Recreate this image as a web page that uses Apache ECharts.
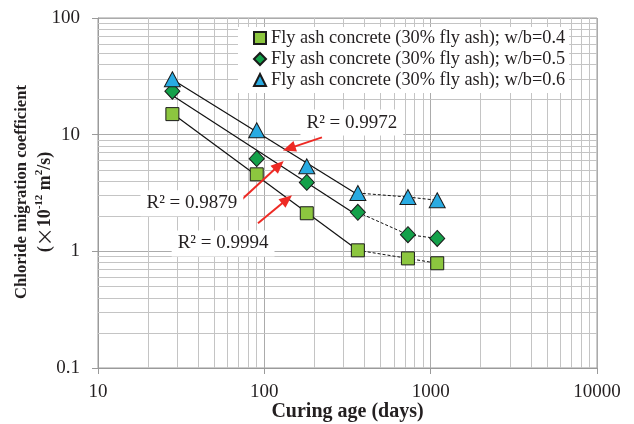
<!DOCTYPE html>
<html><head><meta charset="utf-8">
<script src="https://cdn.jsdelivr.net/npm/echarts@6/dist/echarts.min.js"></script>
<style>html,body{margin:0;padding:0;background:#fff}#c{width:634px;height:424px}</style>
</head><body><div id="c"></div>
<script>
const days = [28, 90, 180, 365, 730, 1095];
const wb04 = [15.0, 4.57, 2.12, 1.02, 0.87, 0.79];
const wb05 = [23.6, 6.23, 3.90, 2.16, 1.39, 1.29];
const wb06 = [29.8, 10.9, 5.35, 3.16, 2.92, 2.74];
const seriesNames = [
  'Fly ash concrete (30% fly ash); w/b=0.4',
  'Fly ash concrete (30% fly ash); w/b=0.5',
  'Fly ash concrete (30% fly ash); w/b=0.6'
];
const r2Labels = ['R² = 0.9994', 'R² = 0.9879', 'R² = 0.9972'];
const xMin = 10, xMax = 10000, yMin = 0.1, yMax = 100;
const fitCount = 4;

const FONT = '"Liberation Serif","Times New Roman",serif';
const TXT = '#231f20';

function powerFit(xs, ys) {
  const lx = xs.map(Math.log10), ly = ys.map(Math.log10);
  const n = lx.length;
  const mx = lx.reduce((a, b) => a + b, 0) / n, my = ly.reduce((a, b) => a + b, 0) / n;
  let sxy = 0, sxx = 0;
  for (let i = 0; i < n; i++) { sxy += (lx[i] - mx) * (ly[i] - my); sxx += (lx[i] - mx) ** 2; }
  const b = sxy / sxx, a = my - b * mx;
  return x => Math.pow(10, a + b * Math.log10(x));
}
function minorVals(lo, hi) {
  const out = [];
  for (let d = lo; d < hi; d *= 10) for (let m = 2; m <= 9; m++) out.push(+(d * m).toPrecision(3));
  return out;
}

const sets = [
  { y: wb04, symbol: 'rect', size: 13, color: '#8cc63f' },
  { y: wb05, symbol: 'diamond', size: [15, 16], color: '#14a14a' },
  { y: wb06, symbol: 'triangle', size: [16, 15], color: '#29abe2' }
];

const series = [];
series.push({
  type: 'line', data: [], silent: true, z: 1,
  markLine: {
    silent: true, symbol: ['none', 'none'], animation: false, z: 1,
    label: { show: false },
    lineStyle: { color: '#c4c4c4', type: 'solid', width: 1 },
    data: minorVals(xMin, xMax).map(v => ({ xAxis: v }))
      .concat(minorVals(yMin, yMax).map(v => ({ yAxis: v })))
  }
});

sets.forEach((s, k) => {
  const f = powerFit(days.slice(0, fitCount), s.y.slice(0, fitCount));
  series.push({
    type: 'line', silent: true, z: 3, symbol: 'none',
    lineStyle: { color: '#111', width: 1.2, type: 'solid' },
    data: [[days[0], f(days[0])], [days[fitCount - 1], f(days[fitCount - 1])]]
  });
  series.push({
    type: 'line', silent: true, z: 3, symbol: 'none',
    lineStyle: { color: '#111', width: 1, type: [3, 2] },
    data: days.slice(fitCount - 1).map((d, i) => [d, s.y[fitCount - 1 + i]])
  });
  series.push({
    name: seriesNames[k], type: 'scatter', z: 5,
    symbol: s.symbol, symbolSize: s.size,
    itemStyle: { color: s.color, borderColor: '#1a1a1a', borderWidth: 1, opacity: 1 },
    data: days.map((d, i) => [d, s.y[i]])
  });
});

const labelPos = [[56.5, 1.17], [36.7, 2.58], [336, 12.7]];
const arrows = [
  [[91.6, 1.74], [136.9, 2.79]],
  [[73.5, 2.79], [122.4, 5.46]],
  [[222, 9.48], [140.8, 7.63]]
];
series.push({
  type: 'line', data: [], silent: true, z: 7,
  markLine: {
    silent: true, animation: false, z: 7, symbol: ['none', 'triangle'], symbolSize: [11, 13],
    label: { show: false },
    lineStyle: { color: '#ee2a24', width: 2, type: 'solid' },
    itemStyle: { color: '#ee2a24' },
    data: arrows.map(a => [{ coord: a[0] }, { coord: a[1] }])
  },
  markPoint: {
    silent: true, animation: false, z: 8, symbol: 'rect', symbolSize: 1,
    itemStyle: { color: 'rgba(0,0,0,0)' },
    label: {
      show: true, position: 'inside', formatter: p => p.name,
      backgroundColor: '#fff', padding: [4, 6, 3, 6],
      fontFamily: FONT, fontSize: 19, color: TXT
    },
    data: labelPos.map((c, i) => ({ name: r2Labels[i], coord: c }))
  }
});

const axisCommon = {
  type: 'log', logBase: 10,
  axisLine: { show: true, lineStyle: { color: '#9a9a9a', width: 1 } },
  axisTick: { show: true, inside: false, length: 6, lineStyle: { color: '#9a9a9a' } },
  splitLine: { show: true, lineStyle: { color: '#ababab', width: 1 } },
  minorTick: { show: false }, minorSplitLine: { show: false },
  axisLabel: { fontFamily: FONT, fontSize: 19, color: TXT, formatter: v => String(v) }
};

const chart = echarts.init(document.getElementById('c'), null, { renderer: 'canvas' });
chart.setOption({
  animation: false,
  backgroundColor: '#fff',
  grid: { left: 98, right: 37, top: 18, bottom: 56, containLabel: false, outerBoundsMode: 'none',
          show: true, borderColor: '#9a9a9a', borderWidth: 1 },
  legend: {
    data: seriesNames, orient: 'vertical', left: 238, top: 27,
    backgroundColor: '#fff', padding: [2, 4, 4, 15], itemGap: 3,
    itemWidth: 12, itemHeight: 12, z: 10,
    textStyle: { fontFamily: FONT, fontSize: 18.3, color: TXT }
  },
  xAxis: Object.assign({}, axisCommon, {
    min: xMin, max: xMax,
    name: 'Curing age (days)', nameLocation: 'middle', nameGap: 34, nameMoveOverlap: false,
    nameTextStyle: { fontFamily: FONT, fontSize: 20, fontWeight: 'bold', color: TXT },
    axisLabel: Object.assign({}, axisCommon.axisLabel, { margin: 15 })
  }),
  yAxis: Object.assign({}, axisCommon, {
    min: yMin, max: yMax,
    axisLabel: Object.assign({}, axisCommon.axisLabel, { margin: 18 })
  }),
  graphic: [
    { type: 'text', x: 22, y: 192, rotation: Math.PI / 2, silent: true,
      style: { text: 'Chloride migration coefficient', fill: TXT,
               font: 'bold 16.6px "Liberation Serif","Times New Roman",serif',
               align: 'center', verticalAlign: 'middle' } },
    { type: 'text', x: 45, y: 202, rotation: Math.PI / 2, silent: true,
      style: {
        text: '{a|(}{x|×}{a|10}{s|-12}{a| m}{s|2}{a|/s)}',
        align: 'center', verticalAlign: 'middle', fill: TXT,
        rich: {
          x: { fontFamily: '"Noto Sans CJK SC",sans-serif', fontSize: 19, fill: TXT, lineHeight: 22 },
          a: { fontFamily: FONT, fontSize: 18, fontWeight: 'bold', fill: TXT, lineHeight: 22 },
          s: { fontFamily: FONT, fontSize: 11, fontWeight: 'bold', fill: TXT, lineHeight: 22, verticalAlign: 'top' }
        }
      } }
  ],
  series: series
});
</script></body></html>
